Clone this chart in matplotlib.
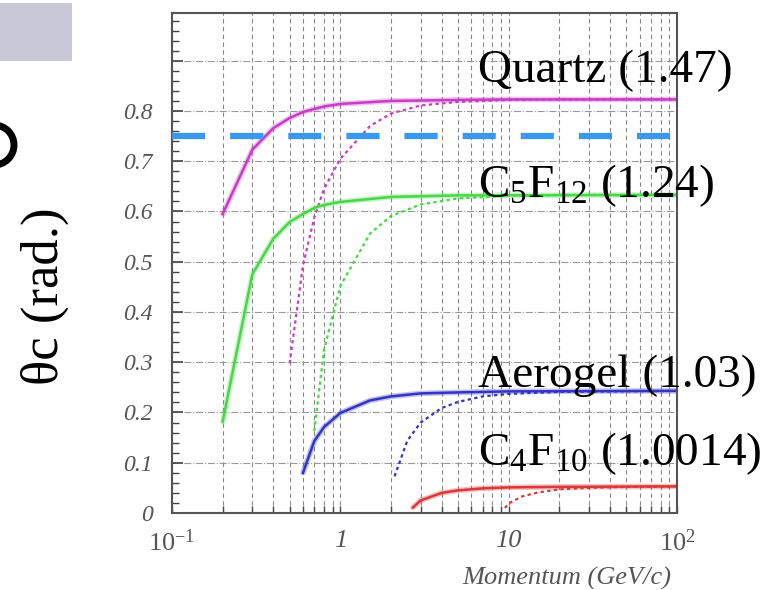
import matplotlib.pyplot as plt
from matplotlib.patches import Rectangle, Ellipse

plt.rcParams['font.family'] = ['Liberation Serif', 'DejaVu Serif']
plt.rcParams['mathtext.fontset'] = 'custom'
plt.rcParams['mathtext.rm'] = 'Liberation Serif'
plt.rcParams['mathtext.it'] = 'Liberation Serif:italic'

# momentum (GeV/c) and Cherenkov angle (rad)
# solid = pion, dotted = kaon
p_quartz_pi = [0.2, 0.3, 0.4, 0.5, 0.6, 0.7, 0.8, 1, 2, 5, 10, 100]
th_quartz_pi = [0.595, 0.723, 0.766, 0.786, 0.798, 0.804, 0.809, 0.814, 0.820, 0.822, 0.823, 0.823]
p_quartz_k = [0.5, 0.6, 0.7, 0.8, 1, 1.5, 2, 3, 5, 10, 20, 100]
th_quartz_k = [0.298, 0.493, 0.588, 0.645, 0.705, 0.770, 0.795, 0.811, 0.818, 0.822, 0.823, 0.823]

p_c5f12_pi = [0.2, 0.3, 0.4, 0.5, 0.6, 0.7, 0.8, 1, 2, 5, 100]
th_c5f12_pi = [0.182, 0.475, 0.546, 0.579, 0.595, 0.607, 0.613, 0.619, 0.629, 0.632, 0.633]
p_c5f12_k = [0.7, 0.8, 1, 1.5, 2, 3, 5, 10, 20, 100]
th_c5f12_k = [0.163, 0.325, 0.452, 0.556, 0.591, 0.614, 0.626, 0.631, 0.633, 0.633]

p_aero_pi = [0.6, 0.7, 0.8, 1, 1.5, 2, 3, 5, 10, 100]
th_aero_pi = [0.080, 0.143, 0.171, 0.199, 0.224, 0.232, 0.238, 0.240, 0.242, 0.243]
p_aero_k = [2.1, 2.5, 3, 4, 5, 7, 10, 20, 100]
th_aero_k = [0.073, 0.144, 0.180, 0.209, 0.221, 0.232, 0.237, 0.241, 0.243]

p_c4f10_pi = [2.7, 3, 4, 5, 7, 10, 20, 100]
th_c4f10_pi = [0.011, 0.025, 0.040, 0.045, 0.049, 0.051, 0.052, 0.053]
p_c4f10_k = [9.5, 10, 12, 15, 20, 30, 50, 100]
th_c4f10_k = [0.010, 0.019, 0.033, 0.041, 0.047, 0.050, 0.052, 0.053]

cut_angle = 0.75

labels = ['Quartz (1.47)', r'C$_{5}$F$_{12}$ (1.24)', 'Aerogel (1.03)', r'C$_{4}$F$_{10}$ (1.0014)']
label_y = [82, 197, 387, 465]

W, H = 776, 590
fig = plt.figure(figsize=(W / 100, H / 100), dpi=100)
ax = fig.add_axes([172 / W, 1 - 513 / H, 505 / W, 500 / H])

curves = [
    (p_quartz_pi, th_quartz_pi, p_quartz_k, th_quartz_k, '#c83cc8'),
    (p_c5f12_pi, th_c5f12_pi, p_c5f12_k, th_c5f12_k, '#46d846'),
    (p_aero_pi, th_aero_pi, p_aero_k, th_aero_k, '#3434c4'),
    (p_c4f10_pi, th_c4f10_pi, p_c4f10_k, th_c4f10_k, '#dc3838'),
]
for ppi, tpi, pk, tk, col in curves:
    ax.plot(ppi, tpi, color=col, lw=4, alpha=0.3, solid_capstyle='round')
    ax.plot(ppi, tpi, color=col, lw=1.8)
    ax.plot(pk, tk, color=col, lw=1.6, ls=(0, (1.5, 1.5)))

ax.axhline(cut_angle, color='#3a98f5', lw=4.5, ls=(0, (5.3, 4.0)),
           dash_capstyle='butt', zorder=5)

ax.set_xscale('log')
ax.set_xlim(0.1, 100)
ax.set_ylim(0, 0.995)

ax.set_yticks([0, 0.1, 0.2, 0.3, 0.4, 0.5, 0.6, 0.7, 0.8, 0.9],
              ['0', '0.1', '0.2', '0.3', '0.4', '0.5', '0.6', '0.7', '0.8', '0.9'])
ax.set_yticks([i * 0.02 for i in range(50)], minor=True)
ax.set_xticks([0.1, 1, 10, 100],
              [r'$\mathit{10^{-1}}$', '1', '10', r'$\mathit{10^{2}}$'])
for t in ax.get_yticklabels():
    t.set_fontstyle('italic')
    t.set_fontsize(17)
    t.set_color('#555555')
for t in ax.get_xticklabels():
    t.set_fontstyle('italic')
    t.set_fontsize(19)
    t.set_color('#555555')

ax.tick_params(axis='y', which='major', direction='in', length=8, width=1.2, color='#444444', pad=14)
ax.tick_params(axis='y', which='minor', direction='in', length=5, width=1, color='#444444')
ax.tick_params(axis='x', which='both', direction='in', length=5, width=1, color='#444444', pad=12)

ax.grid(True, axis='x', which='both', color='#888888', lw=0.8, ls=(0, (4, 3)))
ax.grid(True, axis='y', which='major', color='#999999', lw=0.8, ls='-.')
for s in ax.spines.values():
    s.set_color('#555555')
    s.set_linewidth(1.5)

fig.text(567 / W, 1 - 578 / H, 'Momentum (GeV/c)', ha='center', va='center',
         fontsize=19, style='italic', color='#555555')

fig.text(45 / W, 1 - 296 / H, r'θc (rad.)', rotation=90, ha='center', va='center',
         fontsize=38, color='black')

for lab, yb in zip(labels, label_y):
    fig.text(478 / W, 1 - yb / H, lab, ha='left', va='baseline', fontsize=34, color='black')

# slide decorations around the chart
fig.add_artist(Rectangle((0, 1 - 61 / H), 72 / W, 58 / H, transform=fig.transFigure,
                         facecolor='#c8c8d8', edgecolor='none'))
fig.add_artist(Rectangle((72 / W, 1 - 70 / H), 83 / W, 70 / H, transform=fig.transFigure,
                         facecolor='white', edgecolor='none', zorder=10))
fig.add_artist(Ellipse((-6 / W, 1 - 145 / H), 40 / W, 40 / H, transform=fig.transFigure,
                       fill=False, edgecolor='black', lw=5))

fig.savefig('out.png', dpi=100)
